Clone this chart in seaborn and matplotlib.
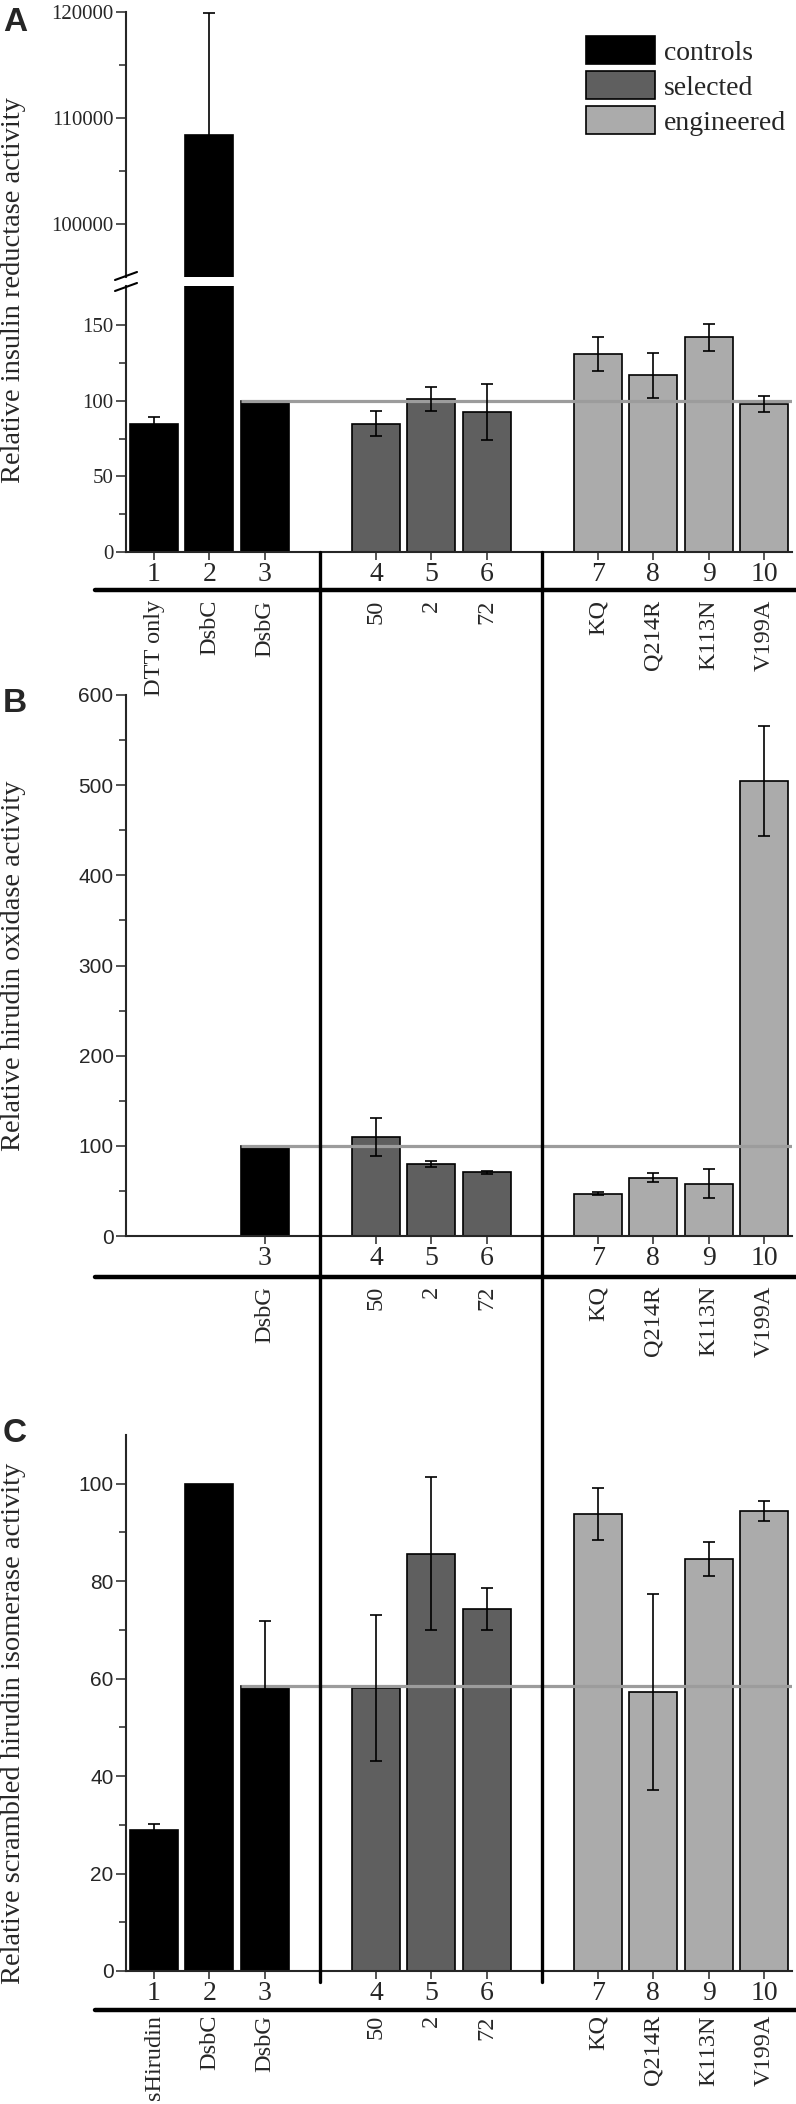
import numpy as np
import pandas as pd
import matplotlib
matplotlib.use('Agg')
import matplotlib.pyplot as plt
import matplotlib.transforms as mtransforms
import seaborn as sns
from matplotlib.patches import Patch
from matplotlib.lines import Line2D
from matplotlib.ticker import FixedLocator

# ---- data ----
lane_pos = [0, 1, 2, 4, 5, 6, 8, 9, 10, 11]
lane_num = ['1', '2', '3', '4', '5', '6', '7', '8', '9', '10']
lane_grp = ['controls'] * 3 + ['selected'] * 3 + ['engineered'] * 4

# A: insulin reductase
names_a = ['DTT only', 'DsbC', 'DsbG', '50', '2', '72', 'KQ', 'Q214R', 'K113N', 'V199A']
insulin = [84.5, 108400, 100, 85, 101.5, 92.5, 131, 117, 142, 98]
insulin_err = [5.1, 11500, 0, 8, 8, 18.5, 11, 15, 9, 5.5]

# B: hirudin oxidase (lanes 1 and 2 not measured)
pos_b = [2, 4, 5, 6, 8, 9, 10, 11]
num_b = ['3', '4', '5', '6', '7', '8', '9', '10']
grp_b = ['controls'] + ['selected'] * 3 + ['engineered'] * 4
names_b = ['DsbG', '50', '2', '72', 'KQ', 'Q214R', 'K113N', 'V199A']
oxidase = [100, 110, 80, 70.5, 47, 64.5, 58, 505]
oxidase_err = [0, 21, 3.5, 1.5, 1.5, 5, 16, 61]

# C: scrambled hirudin isomerase
names_c = ['sHirudin', 'DsbC', 'DsbG', '50', '2', '72', 'KQ', 'Q214R', 'K113N', 'V199A']
isomerase = [29, 100, 58.5, 58, 85.6, 74.3, 93.8, 57.3, 84.6, 94.4]
isomerase_err = [1.2, 0, 13.3, 15, 15.7, 4.3, 5.3, 20.1, 3.5, 2]

palette = {'controls': '#000000', 'selected': '#5f5f5f', 'engineered': '#ababab'}
ref_color = '#9c9c9c'
BAR_W = 0.865
SERIF = 'Liberation Serif'
SANS = 'Liberation Sans'

sns.set_theme(style='ticks')
plt.rcParams['font.family'] = [SERIF, 'DejaVu Serif']
plt.rcParams['axes.linewidth'] = 1.5
plt.rcParams['axes.facecolor'] = 'none'

W, H = 796, 2104
fig = plt.figure(figsize=(W / 100, H / 100), dpi=100)


def px_axes(x0, y0, x1, y1):
    return fig.add_axes([x0 / W, 1 - y1 / H, (x1 - x0) / W, (y1 - y0) / H])


def draw_bars(ax, pos, vals, errs, grp):
    df = pd.DataFrame({'pos': pos, 'val': vals, 'grp': grp})
    sns.barplot(data=df, x='pos', y='val', hue='grp', palette=palette,
                native_scale=True, dodge=False, width=BAR_W, edgecolor='black',
                linewidth=1.2, errorbar=None, legend=False, ax=ax)
    keep = [i for i, e in enumerate(errs) if e > 0]
    ax.errorbar([pos[i] for i in keep], [vals[i] for i in keep],
                yerr=[errs[i] for i in keep], fmt='none', ecolor='black',
                elinewidth=1.2, capsize=4.3, capthick=1.2, zorder=6)


def style_axes(ax, tick_font, tick_size):
    ax.set_xlim(-0.505, 11.5)
    ax.set_xlabel('')
    ax.set_ylabel('')
    sns.despine(ax=ax)
    ax.tick_params(axis='y', which='major', direction='out', length=7, width=1.1,
                   labelsize=tick_size, pad=2)
    ax.tick_params(axis='y', which='minor', direction='out', length=5, width=1.1)
    ax.tick_params(axis='x', direction='out', length=6, width=1.1, labelsize=20, pad=1)
    for lab in ax.get_yticklabels():
        lab.set_fontfamily(tick_font)


# ---- panel A (broken axis) ----
ax_top = px_axes(126, 12, 792, 277)
ax_low = px_axes(126, 286, 792, 552)
for ax in (ax_top, ax_low):
    draw_bars(ax, lane_pos, insulin, insulin_err, lane_grp)

ax_top.set_ylim(95000, 120000)
ax_top.set_yticks([100000, 110000, 120000])
ax_top.yaxis.set_minor_locator(FixedLocator([105000, 115000]))
style_axes(ax_top, SERIF, 15)
ax_top.spines['bottom'].set_visible(False)
ax_top.tick_params(axis='x', length=0, labelbottom=False)

ax_low.set_ylim(0, 176)
ax_low.set_yticks([0, 50, 100, 150])
ax_low.yaxis.set_minor_locator(FixedLocator([25, 75, 125]))
ax_low.set_xticks(lane_pos, lane_num)
style_axes(ax_low, SERIF, 15)
ax_low.hlines(insulin[2], lane_pos[2] - BAR_W / 2, 11.5, color=ref_color, lw=2.3, zorder=5)

ax_top.legend(handles=[Patch(facecolor=palette[g], edgecolor='black', lw=1.2)
                       for g in palette],
              labels=list(palette), loc='upper left',
              bbox_to_anchor=(586 / W, 1 - 36 / H), bbox_transform=fig.transFigure,
              frameon=False, fontsize=20, handlelength=2.5, handleheight=1.19,
              handletextpad=0.3, labelspacing=0.2, borderpad=0, borderaxespad=0)

# ---- panel B ----
ax_b = px_axes(126, 695, 792, 1236)
draw_bars(ax_b, pos_b, oxidase, oxidase_err, grp_b)
ax_b.set_ylim(0, 600)
ax_b.set_yticks(range(0, 601, 100))
ax_b.yaxis.set_minor_locator(FixedLocator(range(50, 600, 100)))
ax_b.set_xticks(pos_b, num_b)
style_axes(ax_b, SANS, 15)
ax_b.hlines(oxidase[0], pos_b[0] - BAR_W / 2, 11.5, color=ref_color, lw=2.3, zorder=5)

# ---- panel C ----
ax_c = px_axes(126, 1435, 792, 1971)
draw_bars(ax_c, lane_pos, isomerase, isomerase_err, lane_grp)
ax_c.set_ylim(0, 110)
ax_c.set_yticks(range(0, 101, 20))
ax_c.yaxis.set_minor_locator(FixedLocator(range(10, 100, 20)))
ax_c.set_xticks(lane_pos, lane_num)
style_axes(ax_c, SANS, 15)
ax_c.hlines(isomerase[2], lane_pos[2] - BAR_W / 2, 11.5, color=ref_color, lw=2.3, zorder=5)

# ---- figure-level decorations ----
def fx(px):
    return px / W


def fy(py):
    return 1 - py / H


# axis break marks on panel A
for yy in (280, 291):
    fig.add_artist(Line2D([fx(115), fx(137)], [fy(yy), fy(yy - 8)], color='black', lw=1.5))

# thick separators under the lane numbers
for yy in (590, 1277, 2010):
    fig.add_artist(Line2D([fx(95), fx(796)], [fy(yy), fy(yy)], color='black', lw=3.2))

# vertical group dividers, placed between lane groups in data units
inv = fig.transFigure.inverted()
for xd in (3, 7):
    xf = inv.transform(ax_low.transData.transform((xd, 0)))[0]
    fig.add_artist(Line2D([xf, xf], [fy(552), fy(1982)], color='black', lw=2.4))

# rotated sample names
for ax, pos, names, ytop in ((ax_low, lane_pos, names_a, 600),
                             (ax_b, pos_b, names_b, 1286),
                             (ax_c, lane_pos, names_c, 2015)):
    trans = mtransforms.blended_transform_factory(ax.transData, fig.transFigure)
    for p, n in zip(pos, names):
        ax.text(p, fy(ytop), n, transform=trans, rotation=90, ha='center', va='top',
                fontsize=17.5, clip_on=False)

# y labels
fig.text(fx(14), fy(290), 'Relative insulin reductase activity', rotation=90,
         ha='center', va='center', fontsize=20.5)
fig.text(fx(14), fy(966), 'Relative hirudin oxidase activity', rotation=90,
         ha='center', va='center', fontsize=20.5)
fig.text(fx(14), fy(1723), 'Relative scrambled hirudin isomerase activity', rotation=90,
         ha='center', va='center', fontsize=20.5)

# panel letters
for letter, yy in (('A', 7), ('B', 688), ('C', 1418)):
    fig.text(fx(3), fy(yy), letter, family=SANS, fontweight='bold', fontsize=24,
             ha='left', va='top')

fig.savefig('out.png', dpi=100, facecolor='white')
